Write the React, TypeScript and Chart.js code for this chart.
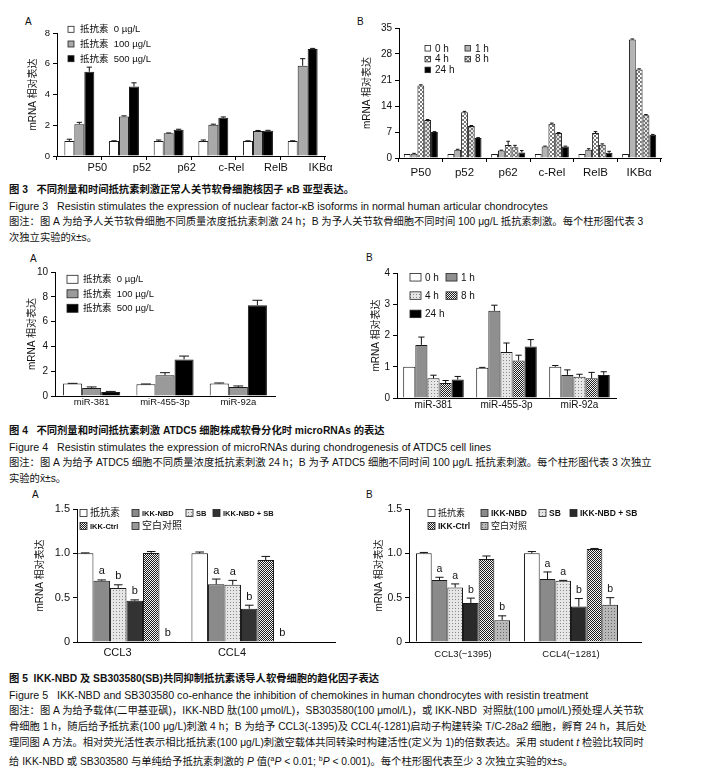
import React, { useEffect, useRef } from 'react';
import { Chart, registerables } from 'chart.js';
Chart.register(...registerables);

const SANS = "'Liberation Sans', Arial, 'Noto Sans CJK SC', sans-serif";
Chart.defaults.font.family = SANS;
Chart.defaults.color = '#111';

// ---------- Figure 3 ----------
const fig3Genes = ['P50', 'p52', 'p62', 'c-Rel', 'RelB', 'IKBα'];
const fig3aSeries = ['抵抗素  0 µg/L', '抵抗素  100 µg/L', '抵抗素  500 µg/L'];
const fig3aDose0 = [0.98, 0.97, 0.98, 0.98, 0.97, 0.97];
const fig3aDose0Err = [0.11, 0.02, 0.06, 0.06, 0.02, 0.02];
const fig3aDose100 = [2.07, 2.57, 1.48, 2.04, 1.63, 5.87];
const fig3aDose100Err = [0.12, 0.04, 0.02, 0.03, 0.03, 0.46];
const fig3aDose500 = [5.48, 4.52, 1.7, 2.48, 1.65, 6.96];
const fig3aDose500Err = [0.3, 0.24, 0.04, 0.06, 0.02, 0.04];
const fig3aTicks = [0, 2, 4, 6, 8];
const fig3aTickLabels = ['0', '2', '4', '6', '8'];

const fig3bSeries = ['0 h', '1 h', '4 h', '8 h', '24 h'];
const fig3bH0 = [1.05, 1.05, 1.05, 1.05, 1.05, 1.05];
const fig3bH0Err = [0, 0, 0, 0, 0, 0];
const fig3bH1 = [1.15, 2.2, 2.0, 3.1, 2.2, 31.9];
const fig3bH1Err = [0.1, 0.15, 0.1, 0.1, 0.3, 0.15];
const fig3bH4 = [19.5, 12.3, 3.5, 9.2, 6.7, 23.8];
const fig3bH4Err = [0.2, 0.25, 1.0, 0.2, 0.4, 0.2];
const fig3bH8 = [10.2, 8.6, 2.9, 6.7, 3.6, 11.5];
const fig3bH8Err = [0.15, 0.15, 0.5, 0.15, 0.2, 0.2];
const fig3bH24 = [7.0, 5.4, 1.5, 3.1, 1.4, 6.25];
const fig3bH24Err = [0.1, 0.1, 0.5, 0.1, 0.4, 0.1];
const fig3bTicks = [0, 7, 14, 21, 28, 35];
const fig3bTickLabels = ['0', '7', '14', '21', '28', '35'];

// ---------- Figure 4 ----------
const fig4Mirs = ['miR-381', 'miR-455-3p', 'miR-92a'];
const fig4aSeries = ['抵抗素  0 µg/L', '抵抗素  100 µg/L', '抵抗素  500 µg/L'];
const fig4aDose0 = [1.0, 0.95, 1.0];
const fig4aDose0Err = [0.02, 0.02, 0.05];
const fig4aDose100 = [0.65, 1.68, 0.73];
const fig4aDose100Err = [0.08, 0.2, 0.08];
const fig4aDose500 = [0.32, 2.95, 7.32];
const fig4aDose500Err = [0.05, 0.27, 0.4];
const fig4aTicks = [0, 2, 4, 6, 8, 10];
const fig4aTickLabels = ['0', '2', '4', '6', '8', '10'];

const fig4bSeries = ['0 h', '1 h', '4 h', '8 h', '24 h'];
const fig4bH0 = [1.0, 0.97, 1.0];
const fig4bH0Err = [0, 0.01, 0.04];
const fig4bH1 = [1.7, 2.79, 0.74];
const fig4bH1Err = [0.25, 0.18, 0.16];
const fig4bH4 = [0.63, 1.47, 0.68];
const fig4bH4Err = [0.1, 0.29, 0.08];
const fig4bH8 = [0.48, 1.2, 0.63];
const fig4bH8Err = [0.08, 0.17, 0.19];
const fig4bH24 = [0.59, 1.65, 0.74];
const fig4bH24Err = [0.1, 0.22, 0.1];
const fig4bTicks = [0, 1, 2, 3, 4];
const fig4bTickLabels = ['0', '1', '2', '3', '4'];

// ---------- Figure 5 ----------
const fig5Series = ['抵抗素', 'IKK-NBD', 'SB', 'IKK-NBD + SB', 'IKK-Ctrl', '空白对照'];
const fig5aGenes = ['CCL3', 'CCL4'];
const fig5aResistin = [1.0, 1.0];
const fig5aResistinErr = [0.005, 0.015];
const fig5aNbd = [0.69, 0.65];
const fig5aNbdErr = [0.01, 0.06];
const fig5aSb = [0.61, 0.645];
const fig5aSbErr = [0.035, 0.05];
const fig5aNbdSb = [0.465, 0.375];
const fig5aNbdSbErr = [0.01, 0.04];
const fig5aCtrl = [1.005, 0.925];
const fig5aCtrlErr = [0.015, 0.04];
const fig5aBlank = [0.008, 0.008];
const fig5aBlankErr = [0, 0];
const fig5aNbdSig = ['a', 'a'];
const fig5aSbSig = ['b', 'a'];
const fig5aNbdSbSig = ['b', 'b'];
const fig5aBlankSig = ['b', 'b'];

const fig5bGenes = ['CCL3(−1395)', 'CCL4(−1281)'];
const fig5bResistin = [1.0, 1.0];
const fig5bResistinErr = [0.01, 0.02];
const fig5bNbd = [0.7, 0.71];
const fig5bNbdErr = [0.03, 0.08];
const fig5bSb = [0.615, 0.69];
const fig5bSbErr = [0.04, 0.005];
const fig5bNbdSb = [0.44, 0.4];
const fig5bNbdSbErr = [0.055, 0.09];
const fig5bCtrl = [0.935, 1.05];
const fig5bCtrlErr = [0.035, 0.005];
const fig5bBlank = [0.245, 0.42];
const fig5bBlankErr = [0.05, 0.08];
const fig5bNbdSig = ['a', 'a'];
const fig5bSbSig = ['a', 'a'];
const fig5bNbdSbSig = ['b', 'b'];
const fig5bBlankSig = ['b', 'b'];

const fig5Ticks = [0, 0.5, 1.0, 1.5];
const fig5TickLabels = ['0', '0.5', '1.0', '1.5'];

// ---------- helpers ----------
type Fills = Record<string, CanvasPattern | string>;

function makeFills(): Fills {
  const mk = (w: number, h: number, draw: (c: CanvasRenderingContext2D) => void) => {
    const cv = document.createElement('canvas');
    cv.width = w;
    cv.height = h;
    const c = cv.getContext('2d')!;
    draw(c);
    return c.createPattern(cv, 'repeat') as CanvasPattern;
  };
  return {
    cross: mk(4, 4, (c) => {
      c.fillStyle = '#fff';
      c.fillRect(0, 0, 4, 4);
      c.strokeStyle = '#555';
      c.lineWidth = 0.8;
      c.beginPath();
      c.moveTo(0, 0); c.lineTo(4, 4);
      c.moveTo(4, 0); c.lineTo(0, 4);
      c.stroke();
    }),
    checkGrey: mk(4, 4, (c) => {
      c.fillStyle = '#e2e2e2';
      c.fillRect(0, 0, 4, 4);
      c.fillStyle = '#777';
      c.fillRect(0, 0, 2, 2);
      c.fillRect(2, 2, 2, 2);
    }),
    checkDark: mk(2, 2, (c) => {
      c.fillStyle = '#f4f4f4';
      c.fillRect(0, 0, 2, 2);
      c.fillStyle = '#1e1e1e';
      c.fillRect(0, 0, 1, 1);
      c.fillRect(1, 1, 1, 1);
    }),
    dotsLight: mk(3, 3, (c) => {
      c.fillStyle = '#e6e6e6';
      c.fillRect(0, 0, 3, 3);
      c.fillStyle = '#8a8a8a';
      c.fillRect(1, 1, 1, 1);
    }),
    dotsMid: mk(3, 3, (c) => {
      c.fillStyle = '#b8b8b8';
      c.fillRect(0, 0, 3, 3);
      c.fillStyle = '#666';
      c.fillRect(1, 1, 1, 1);
    }),
  };
}

const barExtras = {
  id: 'barExtras',
  afterDatasetsDraw(chart: any) {
    const ctx = chart.ctx;
    const ys = chart.scales.y;
    chart.data.datasets.forEach((ds: any, i: number) => {
      const meta = chart.getDatasetMeta(i);
      meta.data.forEach((el: any, j: number) => {
        const d = ds.data[j];
        const v = typeof d === 'number' ? d : d.y;
        const e = ds.errors ? ds.errors[j] || 0 : 0;
        const yBar = ys.getPixelForValue(v);
        const yTop = ys.getPixelForValue(v + e);
        ctx.save();
        if (e > 0) {
          const half = el.width * 0.26;
          ctx.strokeStyle = '#111';
          ctx.lineWidth = 1;
          ctx.beginPath();
          ctx.moveTo(el.x, yBar);
          ctx.lineTo(el.x, yTop);
          ctx.moveTo(el.x - half, yTop);
          ctx.lineTo(el.x + half, yTop);
          ctx.stroke();
        }
        if (ds.letters && ds.letters[j]) {
          ctx.fillStyle = '#111';
          ctx.font = `${ds.letterSize || 11}px ${SANS}`;
          ctx.textAlign = 'center';
          ctx.textBaseline = 'bottom';
          ctx.fillText(ds.letters[j], el.x, yTop - 3);
        }
        ctx.restore();
      });
    });
  },
};

const boxLegend = {
  id: 'boxLegend',
  afterDraw(chart: any, _a: any, o: any) {
    if (!o || !o.cols) return;
    const ctx = chart.ctx;
    const { left, top } = chart.chartArea;
    chart.data.datasets.forEach((ds: any, i: number) => {
      const r = Math.floor(i / o.cols);
      const c = i % o.cols;
      const x = left + o.x + o.colX[c];
      const yc = top + o.y + r * o.rowH;
      ctx.save();
      ctx.fillStyle = ds.backgroundColor;
      ctx.fillRect(x, yc - o.boxH / 2, o.boxW, o.boxH);
      ctx.strokeStyle = '#222';
      ctx.lineWidth = 0.8;
      ctx.strokeRect(x, yc - o.boxH / 2, o.boxW, o.boxH);
      const cjkOnly = /^[\u4e00-\u9fff]+$/.test(ds.label);
      const size = cjkOnly && o.cjkSize ? o.cjkSize : o.size;
      const weight = o.bold && !cjkOnly ? 'bold ' : '';
      ctx.font = `${weight}${size}px ${SANS}`;
      ctx.fillStyle = '#111';
      ctx.textAlign = 'left';
      ctx.textBaseline = 'middle';
      ctx.fillText(ds.label, x + o.boxW + o.gap, yc + 0.5);
      ctx.restore();
    });
  },
};

type Geo = { L: number; T: number; R: number; B: number; yW: number; pT: number; pR: number; xH: number };
type Series = { label: string; data: number[]; err: number[]; fill: string; letters?: string[] };
type Spec = {
  geo: Geo;
  categories: string[];
  series: Series[];
  yTicks: number[];
  yLabels: string[];
  yFont: number;
  xFont: number;
  xPad: number;
  labelOffset: number;
  catPct: number;
  xGrid: boolean;
  linear?: { min: number; max: number };
  legend: any;
  letterSize?: number;
};

function buildConfig(spec: Spec, fills: Fills): any {
  const { geo } = spec;
  const datasets = spec.series.map((s) => ({
    label: s.label,
    data: spec.linear ? s.data.map((v, i) => ({ x: i, y: v })) : s.data,
    errors: s.err,
    letters: s.letters,
    letterSize: spec.letterSize,
    backgroundColor: fills[s.fill] ?? s.fill,
    borderColor: '#1a1a1a',
    borderWidth: 1,
    categoryPercentage: spec.catPct,
    barPercentage: 1,
  }));
  const xTicks = {
    font: { family: SANS, size: spec.xFont },
    color: '#111',
    padding: spec.xPad,
    labelOffset: spec.labelOffset,
    autoSkip: false,
    maxRotation: 0,
    minRotation: 0,
  };
  const x = spec.linear
    ? {
        type: 'linear',
        min: spec.linear.min,
        max: spec.linear.max,
        offset: false,
        afterBuildTicks: (s: any) => {
          s.ticks = spec.categories.map((_, i) => ({ value: i }));
        },
        ticks: { ...xTicks, callback: (v: any) => spec.categories[v] ?? '' },
        grid: { display: false, drawTicks: false, offset: false },
        border: { display: true, color: '#000', width: 1 },
        afterFit: (s: any) => { s.height = geo.xH; },
      }
    : {
        type: 'category',
        offset: true,
        ticks: xTicks,
        grid: spec.xGrid
          ? { display: true, drawOnChartArea: false, drawTicks: true, tickLength: 4, offset: true, color: '#000' }
          : { display: false, drawTicks: false },
        border: { display: true, color: '#000', width: 1 },
        afterFit: (s: any) => { s.height = geo.xH; },
      };
  return {
    type: 'bar',
    data: { labels: spec.linear ? [] : spec.categories, datasets },
    plugins: [barExtras, boxLegend],
    options: {
      animation: false,
      responsive: true,
      maintainAspectRatio: false,
      layout: { padding: { left: 0, top: geo.pT, right: geo.pR, bottom: 0 } },
      plugins: {
        legend: { display: false },
        tooltip: { enabled: false },
        title: { display: false },
        boxLegend: spec.legend,
      },
      scales: {
        x,
        y: {
          type: 'linear',
          min: 0,
          max: spec.yTicks[spec.yTicks.length - 1],
          afterBuildTicks: (s: any) => {
            s.ticks = spec.yTicks.map((v) => ({ value: v }));
          },
          ticks: {
            callback: (v: any, i: number) => spec.yLabels[i] ?? String(v),
            font: { family: SANS, size: spec.yFont },
            color: '#111',
            padding: 3,
          },
          grid: { display: true, drawOnChartArea: false, drawTicks: true, tickLength: 4, color: '#000' },
          border: { display: true, color: '#000', width: 1 },
          title: {
            display: true,
            text: 'mRNA 相对表达',
            font: { family: SANS, size: 10 },
            color: '#111',
            padding: { top: 0, bottom: 0 },
          },
          afterFit: (s: any) => { s.width = geo.yW; },
        },
      },
    },
  };
}

function ChartBox({ spec }: { spec: Spec }) {
  const ref = useRef<HTMLCanvasElement>(null);
  useEffect(() => {
    const chart = new Chart(ref.current as HTMLCanvasElement, buildConfig(spec, makeFills()));
    return () => chart.destroy();
  }, []);
  const g = spec.geo;
  const left = g.L - g.yW;
  const top = g.T - g.pT;
  const width = g.R - g.L + g.yW + g.pR;
  const height = g.B - g.T + g.pT + g.xH;
  return (
    <div style={{ position: 'absolute', left, top, width, height }}>
      <canvas ref={ref} />
    </div>
  );
}

// ---------- chart specs ----------
const spec3a: Spec = {
  geo: { L: 57, T: 33, R: 325, B: 156, yW: 30, pT: 12, pR: 14, xH: 22 },
  categories: fig3Genes,
  series: [
    { label: fig3aSeries[0], data: fig3aDose0, err: fig3aDose0Err, fill: '#ffffff' },
    { label: fig3aSeries[1], data: fig3aDose100, err: fig3aDose100Err, fill: '#a9a9a9' },
    { label: fig3aSeries[2], data: fig3aDose500, err: fig3aDose500Err, fill: '#000000' },
  ],
  yTicks: fig3aTicks,
  yLabels: fig3aTickLabels,
  yFont: 9.5,
  xFont: 11,
  xPad: 1,
  labelOffset: 18,
  catPct: 0.67,
  xGrid: true,
  legend: { cols: 1, colX: [0], x: 11, y: -3.7, rowH: 14.7, boxW: 6, boxH: 6, gap: 6, size: 9.5 },
};

const spec3b: Spec = {
  geo: { L: 399, T: 28, R: 661, B: 158, yW: 38, pT: 10, pR: 10, xH: 24 },
  categories: fig3Genes,
  series: [
    { label: fig3bSeries[0], data: fig3bH0, err: fig3bH0Err, fill: '#ffffff' },
    { label: fig3bSeries[1], data: fig3bH1, err: fig3bH1Err, fill: '#b4b4b4' },
    { label: fig3bSeries[2], data: fig3bH4, err: fig3bH4Err, fill: 'cross' },
    { label: fig3bSeries[3], data: fig3bH8, err: fig3bH8Err, fill: 'checkGrey' },
    { label: fig3bSeries[4], data: fig3bH24, err: fig3bH24Err, fill: '#000000' },
  ],
  yTicks: fig3bTicks,
  yLabels: fig3bTickLabels,
  yFont: 10,
  xFont: 11.5,
  xPad: 4,
  labelOffset: 0,
  catPct: 0.78,
  xGrid: true,
  legend: { cols: 2, colX: [0, 40], x: 26, y: 20.3, rowH: 10.8, boxW: 5.5, boxH: 5.5, gap: 4.5, size: 10 },
};

const spec4a: Spec = {
  geo: { L: 55, T: 272, R: 275, B: 396, yW: 29, pT: 10, pR: 10, xH: 16 },
  categories: fig4Mirs,
  series: [
    { label: fig4aSeries[0], data: fig4aDose0, err: fig4aDose0Err, fill: '#ffffff' },
    { label: fig4aSeries[1], data: fig4aDose100, err: fig4aDose100Err, fill: '#9a9a9a' },
    { label: fig4aSeries[2], data: fig4aDose500, err: fig4aDose500Err, fill: '#000000' },
  ],
  yTicks: fig4aTicks,
  yLabels: fig4aTickLabels,
  yFont: 10,
  xFont: 9.5,
  xPad: 1,
  labelOffset: 0,
  catPct: 0.78,
  xGrid: false,
  legend: { cols: 1, colX: [0], x: 12, y: 7.3, rowH: 14.5, boxW: 11, boxH: 8, gap: 5, size: 9.5 },
};

const spec4b: Spec = {
  geo: { L: 397, T: 273, R: 616, B: 398, yW: 27, pT: 10, pR: 10, xH: 16 },
  categories: fig4Mirs,
  series: [
    { label: fig4bSeries[0], data: fig4bH0, err: fig4bH0Err, fill: '#ffffff' },
    { label: fig4bSeries[1], data: fig4bH1, err: fig4bH1Err, fill: '#8f8f8f' },
    { label: fig4bSeries[2], data: fig4bH4, err: fig4bH4Err, fill: 'dotsLight' },
    { label: fig4bSeries[3], data: fig4bH8, err: fig4bH8Err, fill: 'checkDark' },
    { label: fig4bSeries[4], data: fig4bH24, err: fig4bH24Err, fill: '#000000' },
  ],
  yTicks: fig4bTicks,
  yLabels: fig4bTickLabels,
  yFont: 10,
  xFont: 10,
  xPad: 1,
  labelOffset: 0,
  catPct: 0.83,
  xGrid: false,
  legend: { cols: 2, colX: [0, 36], x: 13, y: 4.3, rowH: 18.3, boxW: 11, boxH: 7.5, gap: 4, size: 10 },
};

const spec5a: Spec = {
  geo: { L: 77, T: 509, R: 335, B: 642, yW: 43, pT: 10, pR: 10, xH: 20 },
  categories: fig5aGenes,
  series: [
    { label: fig5Series[0], data: fig5aResistin, err: fig5aResistinErr, fill: '#ffffff' },
    { label: fig5Series[1], data: fig5aNbd, err: fig5aNbdErr, fill: '#8a8a8a', letters: fig5aNbdSig },
    { label: fig5Series[2], data: fig5aSb, err: fig5aSbErr, fill: 'dotsLight', letters: fig5aSbSig },
    { label: fig5Series[3], data: fig5aNbdSb, err: fig5aNbdSbErr, fill: '#333333', letters: fig5aNbdSbSig },
    { label: fig5Series[4], data: fig5aCtrl, err: fig5aCtrlErr, fill: 'checkDark' },
    { label: fig5Series[5], data: fig5aBlank, err: fig5aBlankErr, fill: '#999999', letters: fig5aBlankSig },
  ],
  yTicks: fig5Ticks,
  yLabels: fig5TickLabels,
  yFont: 11,
  xFont: 11,
  xPad: 4,
  labelOffset: -9,
  catPct: 0.865,
  xGrid: false,
  linear: { min: -0.432, max: 1.821 },
  letterSize: 11,
  legend: { cols: 4, colX: [0, 52, 106, 133], x: 3, y: 4, rowH: 13, boxW: 7, boxH: 7, gap: 3, size: 7.5, bold: true, cjkSize: 10 },
};

const spec5b: Spec = {
  geo: { L: 409, T: 509, R: 641, B: 642, yW: 36, pT: 10, pR: 12, xH: 22 },
  categories: fig5bGenes,
  series: [
    { label: fig5Series[0], data: fig5bResistin, err: fig5bResistinErr, fill: '#ffffff' },
    { label: fig5Series[1], data: fig5bNbd, err: fig5bNbdErr, fill: '#8a8a8a', letters: fig5bNbdSig },
    { label: fig5Series[2], data: fig5bSb, err: fig5bSbErr, fill: 'dotsLight', letters: fig5bSbSig },
    { label: fig5Series[3], data: fig5bNbdSb, err: fig5bNbdSbErr, fill: '#2a2a2a', letters: fig5bNbdSbSig },
    { label: fig5Series[4], data: fig5bCtrl, err: fig5bCtrlErr, fill: 'checkDark' },
    { label: fig5Series[5], data: fig5bBlank, err: fig5bBlankErr, fill: 'dotsMid', letters: fig5bBlankSig },
  ],
  yTicks: fig5Ticks,
  yLabels: fig5TickLabels,
  yFont: 10.5,
  xFont: 9.5,
  xPad: 7,
  labelOffset: 0,
  catPct: 0.87,
  xGrid: false,
  linear: { min: -0.5, max: 1.648 },
  letterSize: 10.5,
  legend: { cols: 4, colX: [0, 53, 111, 142], x: 19, y: 4, rowH: 13, boxW: 7, boxH: 7, gap: 3, size: 8.5, bold: true, cjkSize: 9 },
};

// ---------- text ----------
function T({ x, y, size = 10.3, bold = false, children }: { x: number; y: number; size?: number; bold?: boolean; children: React.ReactNode }) {
  return (
    <div
      style={{
        position: 'absolute',
        left: x,
        top: y - 7,
        height: 14,
        lineHeight: '14px',
        fontSize: size,
        fontWeight: bold ? 'bold' : 'normal',
        fontFamily: SANS,
        whiteSpace: 'pre',
        color: '#111',
      }}
    >
      {children}
    </div>
  );
}

const xbar = 'x\u0304±s';
const EN = 10.7;

export default function App() {
  return (
    <div style={{ position: 'absolute', left: 0, top: 0, width: 708, height: 772, background: '#fff', overflow: 'hidden' }}>
      <T x={25} y={22} size={10}>A</T>
      <T x={357} y={22} size={10}>B</T>
      <ChartBox spec={spec3a} />
      <ChartBox spec={spec3b} />
      <T x={9} y={190} bold>{'图 3   不同剂量和时间抵抗素刺激正常人关节软骨细胞核因子 κB 亚型表达。'}</T>
      <T x={9} y={206} size={EN}>{'Figure 3   Resistin stimulates the expression of nuclear factor-κB isoforms in normal human articular chondrocytes'}</T>
      <T x={9} y={222}>{'图注：图 A 为给予人关节软骨细胞不同质量浓度抵抗素刺激 24 h；B 为予人关节软骨细胞不同时间 100 μg/L 抵抗素刺激。每个柱形图代表 3'}</T>
      <T x={9} y={238}>{'次独立实验的' + xbar + '。'}</T>

      <T x={30} y={259} size={10}>A</T>
      <T x={366} y={258} size={10}>B</T>
      <ChartBox spec={spec4a} />
      <ChartBox spec={spec4b} />
      <T x={9} y={431} bold>{'图 4   不同剂量和时间抵抗素刺激 ATDC5 细胞株成软骨分化时 microRNAs 的表达'}</T>
      <T x={9} y={447} size={EN}>{'Figure 4   Resistin stimulates the expression of microRNAs during chondrogenesis of ATDC5 cell lines'}</T>
      <T x={9} y={463}>{'图注：图 A 为给予 ATDC5 细胞不同质量浓度抵抗素刺激 24 h；B 为予 ATDC5 细胞不同时间 100 μg/L 抵抗素刺激。每个柱形图代表 3 次独立'}</T>
      <T x={9} y={479}>{'实验的' + xbar + '。'}</T>

      <T x={32} y={495} size={10}>A</T>
      <T x={366} y={495} size={10}>B</T>
      <ChartBox spec={spec5a} />
      <ChartBox spec={spec5b} />
      <T x={9} y={679} bold>{'图 5  IKK-NBD 及 SB303580(SB)共同抑制抵抗素诱导人软骨细胞的趋化因子表达'}</T>
      <T x={9} y={695} size={EN}>{'Figure 5   IKK-NBD and SB303580 co-enhance the inhibition of chemokines in human chondrocytes with resistin treatment'}</T>
      <T x={9} y={711}>{'图注：图 A 为给予载体(二甲基亚砜)，IKK-NBD 肽(100 μmol/L)，SB303580(100 μmol/L)，或 IKK-NBD  对照肽(100 μmol/L)预处理人关节软'}</T>
      <T x={9} y={727}>{'骨细胞 1 h，随后给予抵抗素(100 μg/L)刺激 4 h；B 为给予 CCL3(-1395)及 CCL4(-1281)启动子构建转染 T/C-28a2 细胞，孵育 24 h，其后处'}</T>
      <T x={9} y={743}>
        {'理同图 A 方法。相对荧光活性表示相比抵抗素(100 μg/L)刺激空载体共同转染时构建活性(定义为 1)的倍数表达。采用 student '}
        <i>t</i>
        {' 检验比较同时'}
      </T>
      <T x={9} y={759}>
        {'给 IKK-NBD 或 SB303580 与单纯给予抵抗素刺激的 '}
        <i>P</i>
        {' 值('}
        <sup style={{ fontSize: 7 }}>a</sup>
        <i>P</i>
        {' < 0.01; '}
        <sup style={{ fontSize: 7 }}>b</sup>
        <i>P</i>
        {' < 0.001)。每个柱形图代表至少 3 次独立实验的' + xbar + '。'}
      </T>
    </div>
  );
}
